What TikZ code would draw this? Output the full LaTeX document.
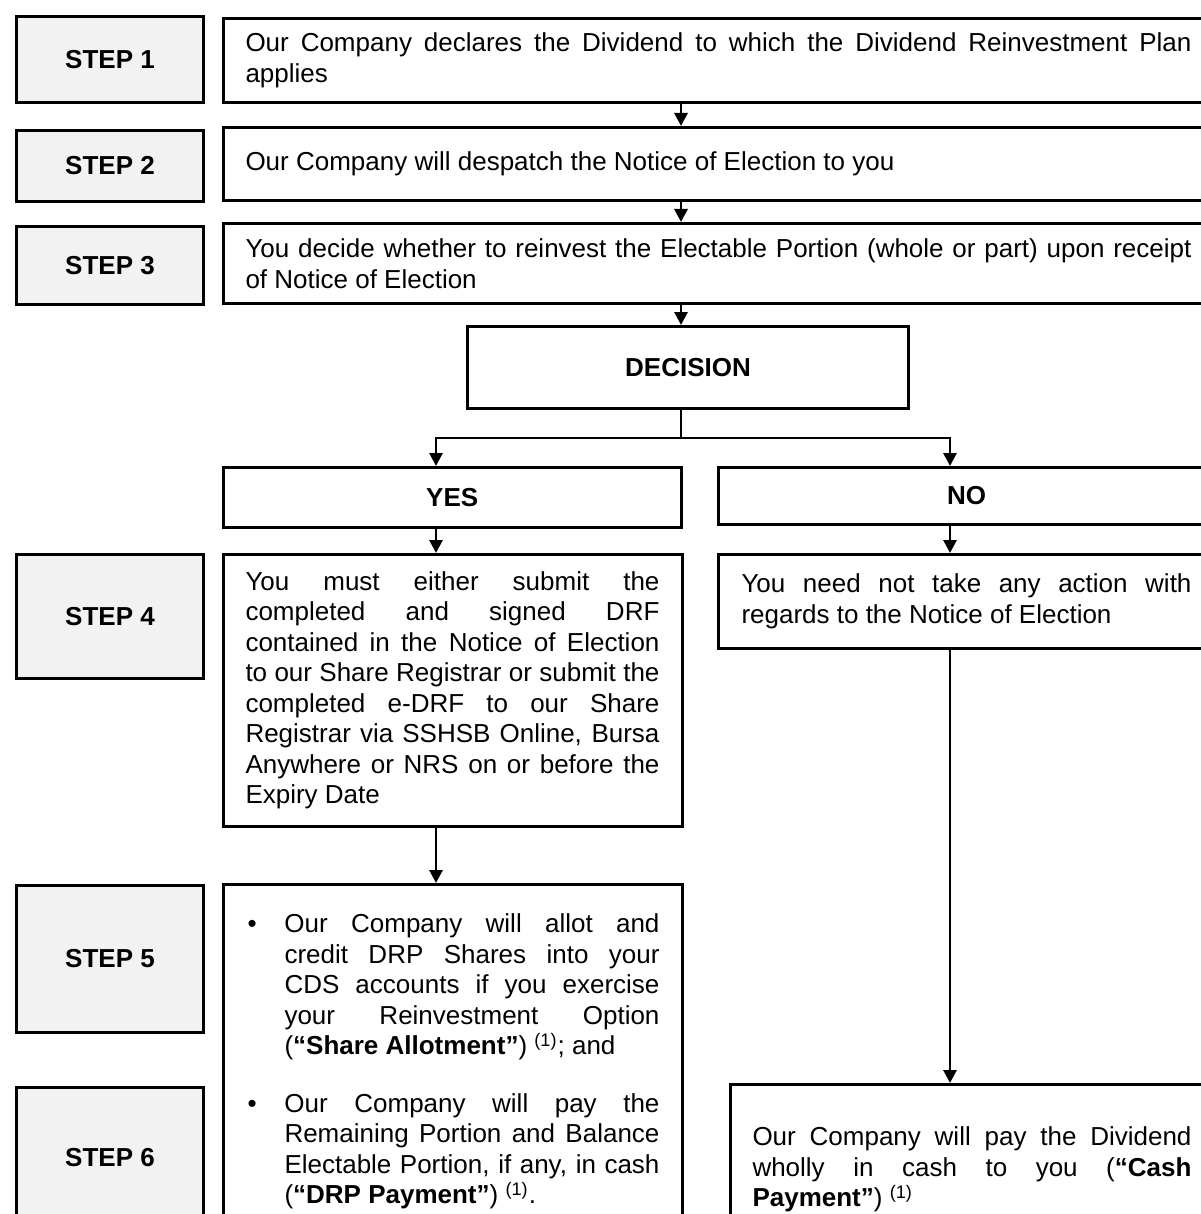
\documentclass[tikz,border=0pt]{standalone}
\usepackage{fontspec}
\setmainfont{Liberation Sans}
\usepackage{xcolor}
\usepackage{tikz}
\usetikzlibrary{arrows.meta,positioning}
\definecolor{stepfill}{HTML}{F2F2F2}
\newcommand{\flowsize}{\fontsize{13pt}{15.25pt}\selectfont}
\newcommand{\refmark}{\textsuperscript{(1)}}
\newcommand{\bulletpar}{\makebox[19.5pt][l]{\hspace{1pt}\textbullet}\hangindent=19.5pt\hangafter=1\relax}
\tolerance=10000
\hbadness=10000
\tikzset{
  stepbox/.style={draw, line width=1.5pt, fill=stepfill, anchor=north west, inner sep=0pt, minimum width=93.5pt, font=\flowsize\bfseries},
  headbox/.style={draw, line width=1.5pt, anchor=north west, inner sep=0pt, font=\flowsize\bfseries},
  textbox/.style={draw, line width=1.5pt, anchor=north west, align=justify, inner xsep=11.25pt, inner ysep=0pt, font=\flowsize},
  line/.style={-{Triangle[length=6.5pt, width=6.5pt]}, line width=1.4pt},
  link/.style={line width=1.4pt}
}

\begin{document}
\begin{tikzpicture}[x=0.5pt, y=-0.5pt]
    \useasboundingbox (0,0) rectangle (1200,1214);
    \node[stepbox, minimum height=43pt] (s1) at (15,15) {STEP 1};
    \node[stepbox, minimum height=35.5pt] (s2) at (15,129) {STEP 2};
    \node[stepbox, minimum height=39pt] (s3) at (15,225) {STEP 3};
    \node[stepbox, minimum height=62pt] (s4) at (15,553) {STEP 4};
    \node[stepbox, minimum height=73.5pt] (s5) at (15,884) {STEP 5};
    \node[stepbox, minimum height=70pt] (s6) at (15,1086) {STEP 6};
    \node[textbox, text width=473pt, minimum height=42pt] (b1) at (221.5,17) {Our Company declares the Dividend to which the Dividend Reinvestment Plan\linebreak applies};
    \node[textbox, text width=473pt, minimum height=36.5pt] (b2) at (221.5,126) {Our Company will despatch the Notice of Election to you};
    \node[textbox, text width=473pt, minimum height=40pt] (b3) at (221.5,222) {You decide whether to reinvest the Electable Portion (whole or part) upon receipt\linebreak of Notice of Election};
    \node[headbox, minimum width=220.5pt, minimum height=41pt] (dec) at (466,325) {DECISION};
    \node[headbox, minimum width=229.25pt, minimum height=30pt] (yes) at (221.5,466) {YES};
    \node[headbox, minimum width=248pt, minimum height=28.5pt] (no) at (717,466) {NO};
    \node[textbox, text width=207pt, minimum height=136pt] (b4) at (221.5,553) {You must either submit the\linebreak completed and signed DRF\linebreak contained in the Notice of Election\linebreak to our Share Registrar or submit the\linebreak completed e-DRF to our Share\linebreak Registrar via SSHSB Online, Bursa\linebreak Anywhere or NRS on or before the\linebreak Expiry Date};
    \node[textbox, text width=207pt, minimum height=177pt] (b5) at (221.5,883) {\bulletpar Our Company will allot and\linebreak credit DRP Shares into your\linebreak CDS accounts if you exercise\linebreak your Reinvestment Option\linebreak (\textbf{“Share Allotment”}) \refmark; and\par
      \vspace{13.5pt}
      \bulletpar Our Company will pay the\linebreak Remaining Portion and Balance\linebreak Electable Portion, if any, in cash\linebreak (\textbf{“DRP Payment”}) \refmark.\par};
    \node[textbox, text width=225pt, inner xsep=11.5pt, minimum height=47pt] (nb) at (717,553) {You need not take any action with\linebreak regards to the Notice of Election};
    \node[textbox, text width=219.5pt, inner xsep=11pt, minimum height=85pt] (fin) at (729,1083) {Our Company will pay the Dividend\linebreak wholly in cash to you (\textbf{“Cash}\linebreak \textbf{Payment”}) \refmark};
    \coordinate (spine) at (681,0);
    \coordinate (yescol) at (436,0);
    \coordinate (nocol) at (950,0);
    \coordinate (split) at (681,438);
    \draw[line] (b1.south -| spine) -- (b2.north -| spine);
    \draw[line] (b2.south -| spine) -- (b3.north -| spine);
    \draw[line] (b3.south -| spine) -- (dec.north -| spine);
    \draw[link] (dec.south -| spine) -- (split);
    \draw[line] (split) -| (yes.north -| yescol);
    \draw[line] (split) -| (no.north -| nocol);
    \draw[line] (yes.south -| yescol) -- (b4.north -| yescol);
    \draw[line] (b4.south -| yescol) -- (b5.north -| yescol);
    \draw[line] (no.south -| nocol) -- (nb.north -| nocol);
    \draw[line] (nb.south -| nocol) -- (fin.north -| nocol);
\end{tikzpicture}
\end{document}
